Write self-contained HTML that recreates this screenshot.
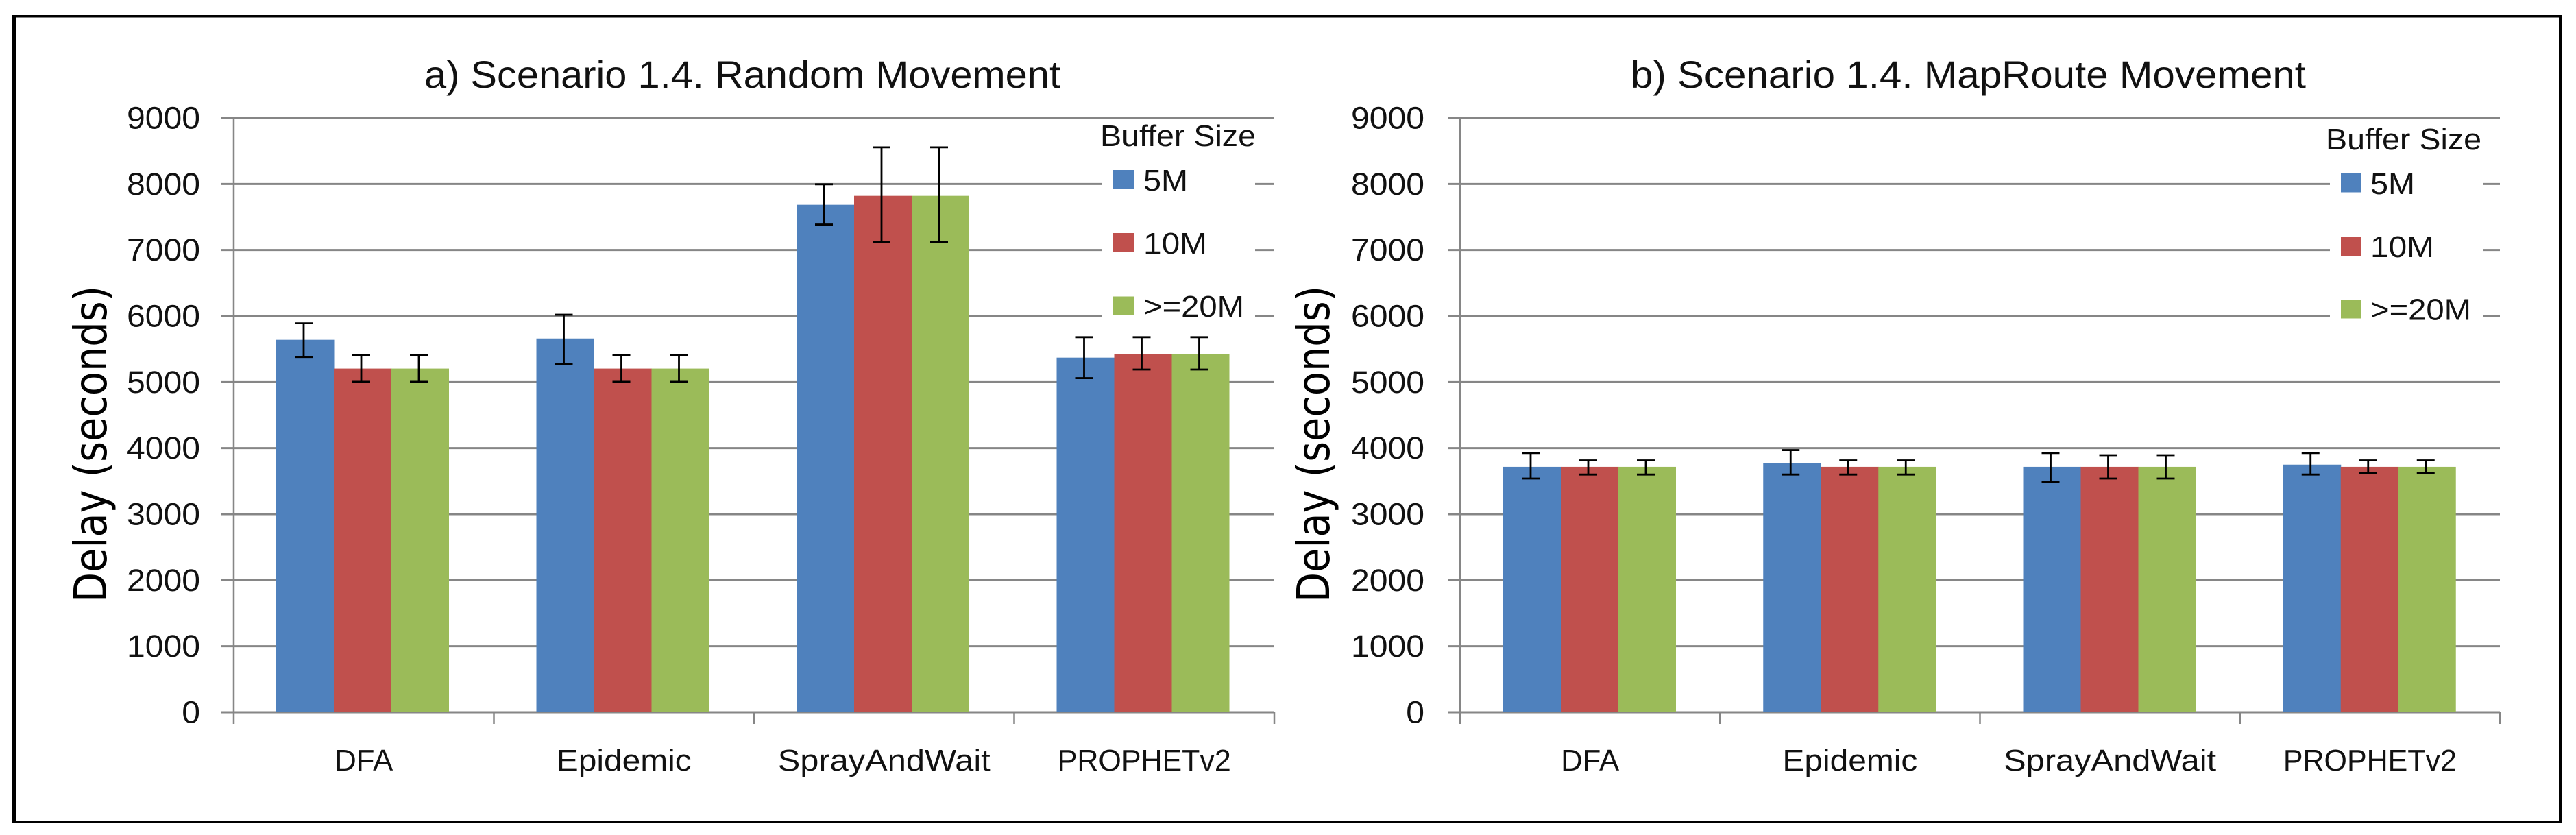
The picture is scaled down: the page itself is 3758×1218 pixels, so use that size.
<!DOCTYPE html>
<html lang="en">
<head>
<meta charset="utf-8">
<title>Scenario 1.4 Delay Charts</title>
<style>
  html, body { margin: 0; padding: 0; background: #fff; }
  svg { display: block; }
  text { font-family: "Liberation Sans", sans-serif; fill: #111; }
  .y-title { font-family: "DejaVu Sans", sans-serif; fill: #000; }
</style>
</head>
<body>
<svg id="figure" xmlns="http://www.w3.org/2000/svg" width="3758" height="1218" viewBox="0 0 3758 1218">
  <rect x="0" y="0" width="3758" height="1218" fill="#fff"/>
  <rect x="18" y="22" width="5" height="1179" fill="#000"/>
  <rect x="3733" y="22" width="4" height="1179" fill="#000"/>
  <rect x="18" y="22" width="3719" height="3.5" fill="#000"/>
  <rect x="18" y="1197" width="3719" height="4" fill="#000"/>

  <g id="chart-a"></g>
  <g id="chart-b"></g>

  <text x="619" y="128" font-size="56" textLength="928" lengthAdjust="spacingAndGlyphs">a) Scenario 1.4. Random Movement</text>
  <text x="2379" y="128" font-size="56" textLength="985" lengthAdjust="spacingAndGlyphs">b) Scenario 1.4. MapRoute Movement</text>
  <text class="y-title" transform="translate(155 879) rotate(-90)" font-size="66" textLength="462" lengthAdjust="spacingAndGlyphs">Delay (seconds)</text>
  <text class="y-title" transform="translate(1939 879) rotate(-90)" font-size="66" textLength="462" lengthAdjust="spacingAndGlyphs">Delay (seconds)</text>
</svg>

<script>
// ---- Shared categories, ticks and legend labels ----
const categories = ['DFA', 'Epidemic', 'SprayAndWait', 'PROPHETv2'];
const yTicks = [0, 1000, 2000, 3000, 4000, 5000, 6000, 7000, 8000, 9000];
const seriesNames = ['5M', '10M', '>=20M'];
const legendTitle = 'Buffer Size';

// ---- Chart a: Random Movement (mean, upper whisker, lower whisker) ----
const randomMean5M = [5640, 5660, 7685, 5370];
const randomMean10M = [5205, 5205, 7820, 5420];
const randomMean20M = [5205, 5205, 7820, 5420];
const randomHigh5M = [5890, 6020, 7995, 5680];
const randomHigh10M = [5410, 5410, 8555, 5680];
const randomHigh20M = [5410, 5410, 8555, 5680];
const randomLow5M = [5380, 5275, 7385, 5060];
const randomLow10M = [5005, 5005, 7120, 5190];
const randomLow20M = [5005, 5005, 7120, 5190];

// ---- Chart b: MapRoute Movement (mean, upper whisker, lower whisker) ----
const mapRouteMean5M = [3717, 3770, 3717, 3750];
const mapRouteMean10M = [3717, 3717, 3717, 3717];
const mapRouteMean20M = [3717, 3717, 3717, 3717];
const mapRouteHigh5M = [3925, 3970, 3925, 3925];
const mapRouteHigh10M = [3815, 3815, 3893, 3815];
const mapRouteHigh20M = [3815, 3815, 3893, 3815];
const mapRouteLow5M = [3540, 3600, 3490, 3600];
const mapRouteLow10M = [3600, 3600, 3540, 3625];
const mapRouteLow20M = [3600, 3600, 3540, 3625];

const SVG_NS = 'http://www.w3.org/2000/svg';
const colors = ['#4F81BD', '#C0504D', '#9BBB59'];
const gridColor = '#868686';
const yBase = 1039;
const yTop = 172;
const yMax = 9000;
const labelWidths = [85, 197, 310, 253];
const legendLabelWidths = [65, 93, 147];

function make(tag, attrs, parent) {
  const node = document.createElementNS(SVG_NS, tag);
  for (const key in attrs) node.setAttribute(key, attrs[key]);
  parent.appendChild(node);
  return node;
}

function yScale(v) {
  return yBase - (v / yMax) * (yBase - yTop);
}

function drawChart(group, layout, means, highs, lows) {
  const slot = layout.plotWidth / categories.length;
  const xCategory = function (i) { return layout.axisX + slot * i; };
  const barWidth = 84;

  // Gridlines with left tick marks, tick labels
  yTicks.forEach(function (tick) {
    const line = make('line', {
      x1: layout.axisX - 18, x2: layout.axisX + layout.plotWidth,
      y1: yScale(tick), y2: yScale(tick),
      stroke: gridColor, 'stroke-width': 3
    }, group);
    
    

    const label = make('text', {
      x: layout.tickLabelRight, y: yScale(tick) + 15.5,
      'font-size': 45, 'text-anchor': 'end',
      textLength: 26.75 * String(tick).length, lengthAdjust: 'spacingAndGlyphs'
    }, group);
    label.textContent = String(tick);
    
    
  });

  // Y axis
  const yAxis = make('line', {
    x1: layout.axisX, x2: layout.axisX, y1: yTop, y2: 1056,
    stroke: gridColor, 'stroke-width': 2.5
  }, group);
  
  

  // Category ticks below the axis
  for (let i = 1; i <= categories.length; i++) {
    const catTick = make('line', {
      x1: xCategory(i), x2: xCategory(i), y1: yBase, y2: 1056,
      stroke: gridColor, 'stroke-width': 2.5
    }, group);
    
    
  }

  // Legend white backing box (interrupts the gridlines)
  const legendBox = make('rect', {
    x: layout.legendBoxX, y: 180, width: layout.legendBoxW, height: 320, fill: '#fff'
  }, group);
  
  

  // Bars
  categories.forEach(function (cat, c) {
    const start = xCategory(c) + layout.barOffset;
    means.forEach(function (series, s) {
      const bar = make('rect', {
        x: start + s * barWidth, y: yScale(series[c]),
        width: barWidth + (s < 2 ? 0.5 : 0), height: yBase - 1 - yScale(series[c]),
        fill: colors[s]
      }, group);
      
      
    });
  });

  // Error bars
  categories.forEach(function (cat, c) {
    const start = xCategory(c) + layout.barOffset;
    means.forEach(function (series, s) {
      const cx = start + s * barWidth + barWidth / 2 - 2;
      const top = yScale(highs[s][c]);
      const bottom = yScale(lows[s][c]);
      const path = 'M' + (cx - 13) + ' ' + top + 'H' + (cx + 13) +
                   'M' + cx + ' ' + top + 'V' + bottom +
                   'M' + (cx - 13) + ' ' + bottom + 'H' + (cx + 13);
      const err = make('path', { d: path, fill: 'none', stroke: '#000', 'stroke-width': 2.8 }, group);
      
      
    });
  });

  // Category labels
  categories.forEach(function (cat, c) {
    const catLabel = make('text', {
      x: xCategory(c) + slot / 2, y: 1124, 'font-size': 44, 'text-anchor': 'middle',
      textLength: labelWidths[c], lengthAdjust: 'spacingAndGlyphs'
    }, group);
    catLabel.textContent = cat;
    
    
  });

  // Legend
  const legTitle = make('text', {
    x: layout.legendTitleX, y: layout.legendTitleY, 'font-size': 44,
    textLength: 227, lengthAdjust: 'spacingAndGlyphs'
  }, group);
  legTitle.textContent = legendTitle;
  
  

  seriesNames.forEach(function (name, s) {
    const swatch = make('rect', {
      x: layout.swatchX, y: layout.swatchY[s], width: layout.swatchW, height: 27.5, fill: colors[s]
    }, group);
    
    

    const entry = make('text', {
      x: layout.legendTextX, y: layout.legendBaseY[s], 'font-size': 44,
      textLength: legendLabelWidths[s], lengthAdjust: 'spacingAndGlyphs'
    }, group);
    entry.textContent = name;
    
    
  });
}

drawChart(
  document.getElementById('chart-a'),
  {
    axisX: 341, plotWidth: 1518, barOffset: 62, tickLabelRight: 292,
    legendBoxX: 1607, legendBoxW: 224,
    legendTitleX: 1605, legendTitleY: 213,
    swatchX: 1623, swatchW: 31, swatchY: [248, 340, 432.5],
    legendTextX: 1668, legendBaseY: [278, 370, 462]
  },
  [randomMean5M, randomMean10M, randomMean20M],
  [randomHigh5M, randomHigh10M, randomHigh20M],
  [randomLow5M, randomLow10M, randomLow20M]
);

drawChart(
  document.getElementById('chart-b'),
  {
    axisX: 2130, plotWidth: 1517, barOffset: 63, tickLabelRight: 2078,
    legendBoxX: 3399, legendBoxW: 223,
    legendTitleX: 3393, legendTitleY: 218,
    swatchX: 3415, swatchW: 29.5, swatchY: [253, 345.5, 437],
    legendTextX: 3458, legendBaseY: [283, 375, 466.5]
  },
  [mapRouteMean5M, mapRouteMean10M, mapRouteMean20M],
  [mapRouteHigh5M, mapRouteHigh10M, mapRouteHigh20M],
  [mapRouteLow5M, mapRouteLow10M, mapRouteLow20M]
);
</script>
</body>
</html>
